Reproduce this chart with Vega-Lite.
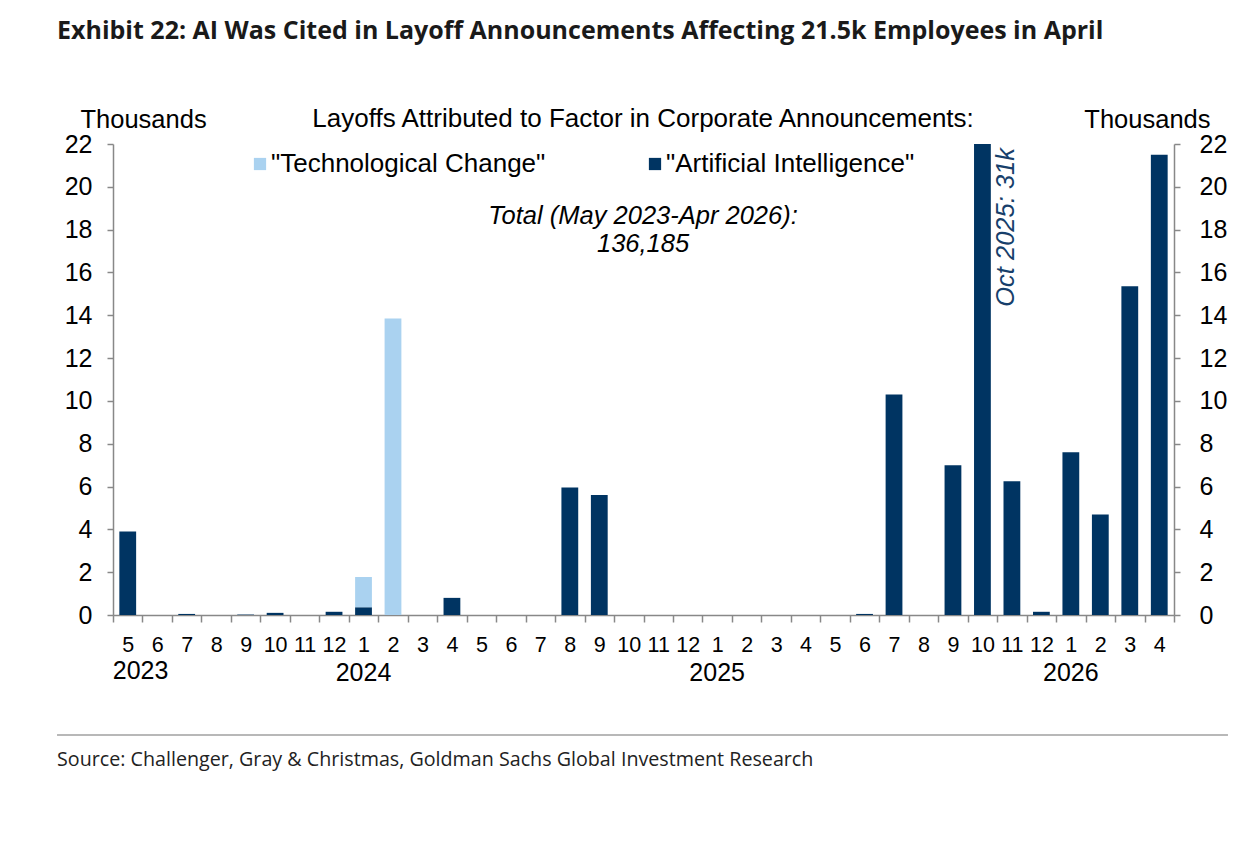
{
  "$schema": "https://vega.github.io/schema/vega-lite/v6.json",
  "width": 1061,
  "height": 471,
  "autosize": {"type": "none"},
  "padding": {"left": 113, "top": 144, "right": 82, "bottom": 249},
  "background": "white",
  "data": {
    "values": [
      {"m": "2023-05", "s": "Artificial Intelligence", "v": 3.9},
      {"m": "2023-07", "s": "Artificial Intelligence", "v": 0.05},
      {"m": "2023-09", "s": "Artificial Intelligence", "v": 0.02},
      {"m": "2023-10", "s": "Artificial Intelligence", "v": 0.1},
      {"m": "2023-12", "s": "Artificial Intelligence", "v": 0.15},
      {"m": "2024-01", "s": "Artificial Intelligence", "v": 0.36},
      {"m": "2024-01", "s": "Technological Change", "v": 1.41},
      {"m": "2024-02", "s": "Technological Change", "v": 13.85},
      {"m": "2024-04", "s": "Artificial Intelligence", "v": 0.8},
      {"m": "2024-08", "s": "Artificial Intelligence", "v": 5.95},
      {"m": "2024-09", "s": "Artificial Intelligence", "v": 5.6},
      {"m": "2025-06", "s": "Artificial Intelligence", "v": 0.05},
      {"m": "2025-07", "s": "Artificial Intelligence", "v": 10.3},
      {"m": "2025-09", "s": "Artificial Intelligence", "v": 7.0},
      {"m": "2025-10", "s": "Artificial Intelligence", "v": 31.0},
      {"m": "2025-11", "s": "Artificial Intelligence", "v": 6.25},
      {"m": "2025-12", "s": "Artificial Intelligence", "v": 0.15},
      {"m": "2026-01", "s": "Artificial Intelligence", "v": 7.6},
      {"m": "2026-02", "s": "Artificial Intelligence", "v": 4.7},
      {"m": "2026-03", "s": "Artificial Intelligence", "v": 15.35},
      {"m": "2026-04", "s": "Artificial Intelligence", "v": 21.5}
    ]
  },
  "layer": [
    {
      "mark": {"type": "bar", "clip": true, "width": {"band": 0.57}},
      "encoding": {
        "x": {
          "field": "m",
          "type": "ordinal",
          "scale": {
            "domain": ["2023-05","2023-06","2023-07","2023-08","2023-09","2023-10","2023-11","2023-12","2024-01","2024-02","2024-03","2024-04","2024-05","2024-06","2024-07","2024-08","2024-09","2024-10","2024-11","2024-12","2025-01","2025-02","2025-03","2025-04","2025-05","2025-06","2025-07","2025-08","2025-09","2025-10","2025-11","2025-12","2026-01","2026-02","2026-03","2026-04"],
            "paddingInner": 0,
            "paddingOuter": 0
          },
          "axis": {
            "orient": "bottom",
            "title": null,
            "labelExpr": "isString(datum.value) ? '' + toNumber(slice(datum.value, 5)) : ''",
            "labelAngle": 0,
            "labelFontSize": 21.5,
            "labelPadding": 12,
            "labelOverlap": false,
            "tickBand": "extent",
            "tickSize": 7,
            "tickWidth": 1.5,
            "tickColor": "#888888",
            "domainColor": "#888888",
            "domainWidth": 1.5
          }
        },
        "y": {
          "field": "v",
          "type": "quantitative",
          "stack": "zero",
          "scale": {"domain": [0, 22], "nice": false},
          "axis": {
            "orient": "left",
            "values": [0, 2, 4, 6, 8, 10, 12, 14, 16, 18, 20, 22],
            "grid": false,
            "title": "Thousands",
            "titleAngle": 0,
            "titleX": -33,
            "titleY": -17,
            "titleAlign": "left",
            "titleBaseline": "alphabetic",
            "titleFontSize": 25.5,
            "titleFontWeight": "normal",
            "labelFontSize": 25,
            "labelPadding": 15,
            "tickSize": 6,
            "tickWidth": 1.5,
            "tickColor": "#888888",
            "domainColor": "#888888",
            "domainWidth": 1.5
          }
        },
        "color": {
          "field": "s",
          "type": "nominal",
          "scale": {
            "domain": ["Technological Change", "Artificial Intelligence"],
            "range": ["#AAD2F0", "#003462"]
          },
          "legend": {
            "orient": "none",
            "legendX": 134,
            "legendY": 7,
            "direction": "horizontal",
            "title": null,
            "symbolType": "square",
            "symbolSize": 150,
            "symbolStrokeWidth": 0,
            "labelFontSize": 26,
            "labelOffset": -2,
            "columnPadding": 96,
            "labelLimit": 400,
            "labelExpr": "'\"' + datum.label + '\"'"
          }
        },
        "order": {"field": "s", "sort": "ascending"}
      }
    },
    {
      "data": {"values": [{"t": "Oct 2025: 31k"}]},
      "mark": {
        "type": "text",
        "angle": 270,
        "align": "right",
        "baseline": "top",
        "dx": -4,
        "dy": 12,
        "fontSize": 25.5,
        "fontStyle": "italic",
        "color": "#173f6b"
      },
      "encoding": {
        "text": {"field": "t"},
        "x": {
          "datum": "2025-10",
          "type": "ordinal",
          "axis": {
            "orient": "bottom",
            "title": null,
            "domain": false,
            "ticks": false,
            "tickSize": 0,
            "labelExpr": "isString(datum.value) && slice(datum.value, 5) == '01' ? slice(datum.value, 0, 4) : ''",
            "labelAngle": 0,
            "labelFontSize": 25,
            "labelPadding": 45,
            "labelOverlap": false
          }
        },
        "y": {
          "datum": 22,
          "type": "quantitative",
          "axis": {
            "orient": "right",
            "values": [0, 2, 4, 6, 8, 10, 12, 14, 16, 18, 20, 22],
            "grid": false,
            "title": "Thousands",
            "titleAngle": 0,
            "titleX": 36,
            "titleY": -17,
            "titleAlign": "right",
            "titleBaseline": "alphabetic",
            "titleFontSize": 25.5,
            "titleFontWeight": "normal",
            "labelFontSize": 25,
            "labelPadding": 19,
            "tickSize": 6,
            "tickWidth": 1.5,
            "tickColor": "#888888",
            "domainColor": "#888888",
            "domainWidth": 1.5
          }
        }
      }
    },
    {
      "data": {"values": [{"t": "2023"}]},
      "mark": {"type": "text", "align": "left", "baseline": "alphabetic", "dx": -15, "fontSize": 25, "color": "#000000"},
      "encoding": {
        "text": {"field": "t"},
        "x": {"datum": "2023-05", "type": "ordinal", "axis": null},
        "y": {"datum": -3.0, "type": "quantitative", "axis": null}
      }
    },
    {
      "data": {"values": [{"t": "Total (May 2023-Apr 2026):"}]},
      "mark": {"type": "text", "align": "center", "baseline": "alphabetic", "dx": 14.3, "fontSize": 25.5, "fontStyle": "italic", "color": "#000000"},
      "encoding": {
        "text": {"field": "t"},
        "x": {"datum": "2024-10", "type": "ordinal", "axis": null},
        "y": {"datum": 18.26, "type": "quantitative", "axis": null}
      }
    },
    {
      "data": {"values": [{"t": "136,185"}]},
      "mark": {"type": "text", "align": "center", "baseline": "alphabetic", "dx": 14.3, "fontSize": 25.5, "fontStyle": "italic", "color": "#000000"},
      "encoding": {
        "text": {"field": "t"},
        "x": {"datum": "2024-10", "type": "ordinal", "axis": null},
        "y": {"datum": 16.95, "type": "quantitative", "axis": null}
      }
    },
    {
      "data": {"values": [{"t": "Layoffs Attributed to Factor in Corporate Announcements:"}]},
      "mark": {"type": "text", "align": "center", "baseline": "alphabetic", "dx": 14.3, "fontSize": 26, "color": "#000000"},
      "encoding": {
        "text": {"field": "t"},
        "x": {"datum": "2024-10", "type": "ordinal", "axis": null},
        "y": {"datum": 22.79, "type": "quantitative", "axis": null}
      }
    },
    {
      "data": {"values": [{"t": "Exhibit 22: AI Was Cited in Layoff Announcements Affecting 21.5k Employees in April"}]},
      "mark": {"type": "text", "align": "left", "baseline": "alphabetic", "dx": -70.7, "font": "Open Sans", "fontSize": 25, "fontWeight": "bold", "color": "#1a1a1a"},
      "encoding": {
        "text": {"field": "t"},
        "x": {"datum": "2023-05", "type": "ordinal", "axis": null},
        "y": {"datum": 26.9, "type": "quantitative", "axis": null}
      }
    },
    {
      "data": {"values": [{"t": "rule"}]},
      "mark": {"type": "rule", "color": "#a0a0a0", "strokeWidth": 1.5, "xOffset": -70.7, "x2Offset": 68.7},
      "encoding": {
        "x": {"datum": "2023-05", "type": "ordinal", "axis": null},
        "x2": {"datum": "2026-04"},
        "y": {"datum": -5.6, "type": "quantitative", "axis": null}
      }
    },
    {
      "data": {"values": [{"t": "Source: Challenger, Gray & Christmas, Goldman Sachs Global Investment Research"}]},
      "mark": {"type": "text", "align": "left", "baseline": "alphabetic", "dx": -70.7, "font": "Open Sans", "fontSize": 19.7, "color": "#222222"},
      "encoding": {
        "text": {"field": "t"},
        "x": {"datum": "2023-05", "type": "ordinal", "axis": null},
        "y": {"datum": -7.05, "type": "quantitative", "axis": null}
      }
    }
  ],
  "resolve": {"axis": {"x": "independent", "y": "independent"}},
  "config": {
    "view": {"stroke": null},
    "font": "Liberation Sans",
    "axis": {"labelFont": "Liberation Sans", "titleFont": "Liberation Sans", "labelColor": "#000000", "titleColor": "#000000"},
    "legend": {"labelFont": "Liberation Sans", "labelColor": "#000000"},
    "text": {"font": "Liberation Sans"}
  }
}
